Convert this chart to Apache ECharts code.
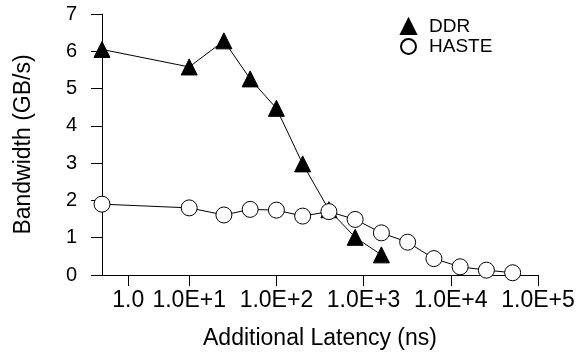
<!DOCTYPE html>
<html>
<head>
<meta charset="utf-8">
<script src="https://cdn.jsdelivr.net/npm/echarts@6/dist/echarts.min.js"></script>
<style>
  html, body { margin: 0; padding: 0; background: #fff; }
  #chart { width: 587px; height: 362px; }
</style>
</head>
<body>
<div id="chart"></div>
<script>
// Bandwidth vs. additional latency, log x axis, DDR vs HASTE
const latencyDDR = [1, 10, 25, 50, 100, 200, 400, 800, 1600];
const bwDDR = [6.05, 5.58, 6.28, 5.26, 4.47, 2.98, 1.75, 1.01, 0.54];
const latencyHASTE = [1, 10, 25, 50, 100, 200, 400, 800, 1600, 3200, 6400, 12800, 25600, 51200];
const bwHASTE = [1.90, 1.80, 1.61, 1.76, 1.74, 1.58, 1.70, 1.49, 1.13, 0.88, 0.44, 0.22, 0.13, 0.06];
// tick positions on the log axis and their printed labels
const xTickValues = [2, 10, 100, 1000, 10000, 100000];
const xTickLabels = ["1.0", "1.0E+1", "1.0E+2", "1.0E+3", "1.0E+4", "1.0E+5"];

const FONT = "'Liberation Sans', Arial, sans-serif";
const pair = (xs, ys) => xs.map((x, i) => [x, ys[i]]);

const chart = echarts.init(document.getElementById("chart"), null, { renderer: "canvas" });
chart.setOption({
  animation: false,
  textStyle: { fontFamily: FONT, color: "#000" },
  grid: { left: 102, right: 49, top: 14, bottom: 87, containLabel: false },
  legend: {
    orient: "vertical", left: 395, top: 12, itemGap: 1, itemWidth: 15, itemHeight: 15,
    textStyle: { fontFamily: FONT, fontSize: 19, color: "#000", padding: [0, 0, 0, 8] },
    data: [{ name: "DDR", icon: "triangle" }, { name: "HASTE", icon: "circle" }],
  },
  xAxis: {
    type: "log", min: 1, max: 100000, logBase: 10,
    name: "Additional Latency (ns)", nameLocation: "middle", nameGap: 52,
    nameTextStyle: { fontFamily: FONT, fontSize: 23, color: "#000" },
    axisLine: { onZero: false, lineStyle: { color: "#000", width: 1 } },
    axisTick: { inside: false, length: 11, customValues: xTickValues, lineStyle: { color: "#000" } },
    axisLabel: {
      customValues: xTickValues, margin: 14, fontFamily: FONT, fontSize: 23, color: "#000",
      formatter: (v) => xTickLabels[xTickValues.findIndex((t) => Math.abs(t - v) / t < 1e-6)] || "",
    },
    minorTick: { show: false }, splitLine: { show: false },
  },
  yAxis: {
    type: "value", min: 0, max: 7, interval: 1,
    name: "Bandwidth (GB/s)", nameLocation: "middle", nameGap: 67, nameRotate: 90,
    nameTextStyle: { fontFamily: FONT, fontSize: 23, color: "#000" },
    axisLine: { show: true, lineStyle: { color: "#000", width: 1 } },
    axisTick: { show: true, inside: false, length: 11, lineStyle: { color: "#000" } },
    axisLabel: { margin: 25, fontFamily: FONT, fontSize: 20, color: "#000" },
    splitLine: { show: false },
  },
  series: [
    {
      name: "DDR", type: "line", data: pair(latencyDDR, bwDDR),
      symbol: "triangle", symbolSize: 16, showAllSymbol: true,
      lineStyle: { color: "#000", width: 1 },
      itemStyle: { color: "#000", borderColor: "#000", borderWidth: 1 },
      z: 2,
    },
    {
      name: "HASTE", type: "line", data: pair(latencyHASTE, bwHASTE),
      symbol: "circle", symbolSize: 16, showAllSymbol: true,
      lineStyle: { color: "#000", width: 1 },
      itemStyle: { color: "#fff", borderColor: "#000", borderWidth: 1 },
      z: 3,
    },
  ],
});
</script>
</body>
</html>
